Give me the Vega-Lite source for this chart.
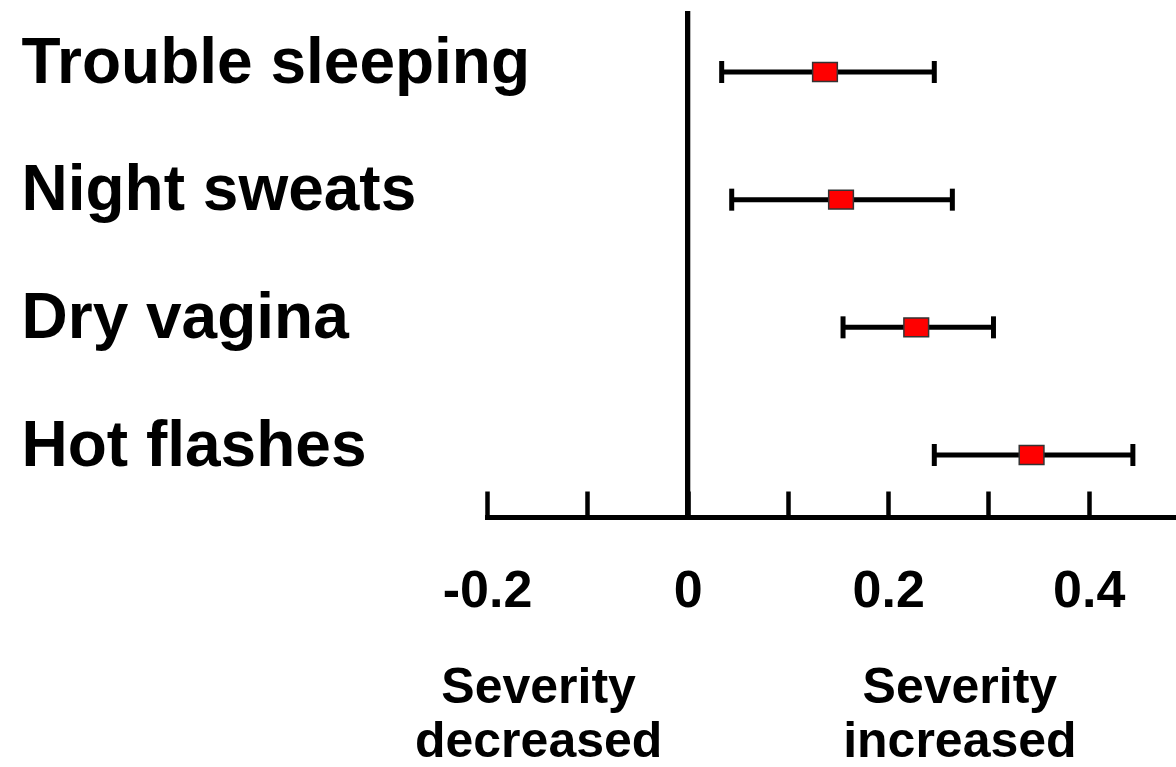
{
  "$schema": "https://vega.github.io/schema/vega-lite/v6.json",
  "width": 689,
  "height": 506,
  "autosize": {"type": "none"},
  "padding": {"left": 487, "top": 11, "right": 0, "bottom": 250},
  "background": "white",
  "config": {
    "view": {"stroke": null},
    "font": "Liberation Sans",
    "axis": {"labelFont": "Liberation Sans", "labelFontWeight": "bold", "labelColor": "black", "grid": false, "title": null},
    "axisX": {"labelFlush": false, "labelOverlap": false, "labelBound": false, "labelLimit": 0},
    "axisY": {"domain": false, "ticks": false, "labelAlign": "left", "labelBaseline": "middle", "labelPadding": 466, "labelFontSize": 64, "labelLimit": 0, "labelOffset": -9}
  },
  "data": {
    "values": [
      {"symptom": "Trouble sleeping", "est": 0.137, "low": 0.034, "high": 0.246},
      {"symptom": "Night sweats", "est": 0.153, "low": 0.044, "high": 0.264},
      {"symptom": "Dry vagina", "est": 0.228, "low": 0.155, "high": 0.305},
      {"symptom": "Hot flashes", "est": 0.343, "low": 0.246, "high": 0.444}
    ]
  },
  "layer": [
    {
      "mark": {"type": "rule", "color": "black", "strokeWidth": 5},
      "encoding": {"x": {"datum": 0, "type": "quantitative", "scale": {"domain": [-0.2, 0.487], "nice": false, "zero": false}, "axis": null}}
    },
    {
      "mark": {"type": "rule", "color": "black", "strokeWidth": 5},
      "encoding": {
        "y": {"field": "symptom", "type": "nominal", "sort": null, "scale": {"type": "point", "range": [61, 444], "padding": 0}, "title": null},
        "x": {"field": "low", "type": "quantitative", "scale": {"domain": [-0.2, 0.487], "nice": false, "zero": false},
          "axis": {"orient": "bottom", "values": [-0.149, 0.271], "domain": false, "ticks": false, "labelExpr": "datum.value < 0 ? ['Severity', 'decreased'] : ['Severity', 'increased']", "labelPadding": 145, "labelFontSize": 50, "labelLineHeight": 54, "labelLimit": 0}},
        "x2": {"field": "high"}
      }
    },
    {
      "mark": {"type": "tick", "color": "black", "opacity": 1, "thickness": 5, "size": 22},
      "encoding": {
        "y": {"field": "symptom", "type": "nominal", "sort": null, "scale": {"type": "point", "range": [61, 444], "padding": 0}, "title": null},
        "x": {"field": "low", "type": "quantitative", "scale": {"domain": [-0.2, 0.487], "nice": false, "zero": false}, "axis": null}
      }
    },
    {
      "mark": {"type": "tick", "color": "black", "opacity": 1, "thickness": 5, "size": 22},
      "encoding": {
        "y": {"field": "symptom", "type": "nominal", "sort": null, "scale": {"type": "point", "range": [61, 444], "padding": 0}, "title": null},
        "x": {"field": "high", "type": "quantitative", "scale": {"domain": [-0.2, 0.487], "nice": false, "zero": false}, "axis": null}
      }
    },
    {
      "mark": {"type": "point", "shape": "M-1,-0.76H1V0.76H-1Z", "size": 610, "filled": true, "fill": "#ff0000", "stroke": "#333333", "strokeWidth": 1.5, "opacity": 1},
      "encoding": {
        "y": {"field": "symptom", "type": "nominal", "sort": null, "scale": {"type": "point", "range": [61, 444], "padding": 0}, "title": null},
        "x": {"field": "est", "type": "quantitative", "scale": {"domain": [-0.2, 0.487], "nice": false, "zero": false},
          "axis": {"orient": "bottom", "values": [-0.2, -0.1, 0, 0.1, 0.2, 0.3, 0.4], "tickSize": -26, "tickWidth": 4.5, "tickColor": "black", "domainColor": "black", "domainWidth": 5, "domainCap": "square", "labelPadding": 74, "labelFontSize": 52,
            "labelExpr": "round(datum.value * 10) % 2 != 0 ? '' : (datum.value == 0 ? '0' : (datum.value < 0 ? '-' : '') + format(abs(datum.value), '.1f'))"}}
      }
    }
  ],
  "resolve": {"axis": {"x": "independent"}}
}
